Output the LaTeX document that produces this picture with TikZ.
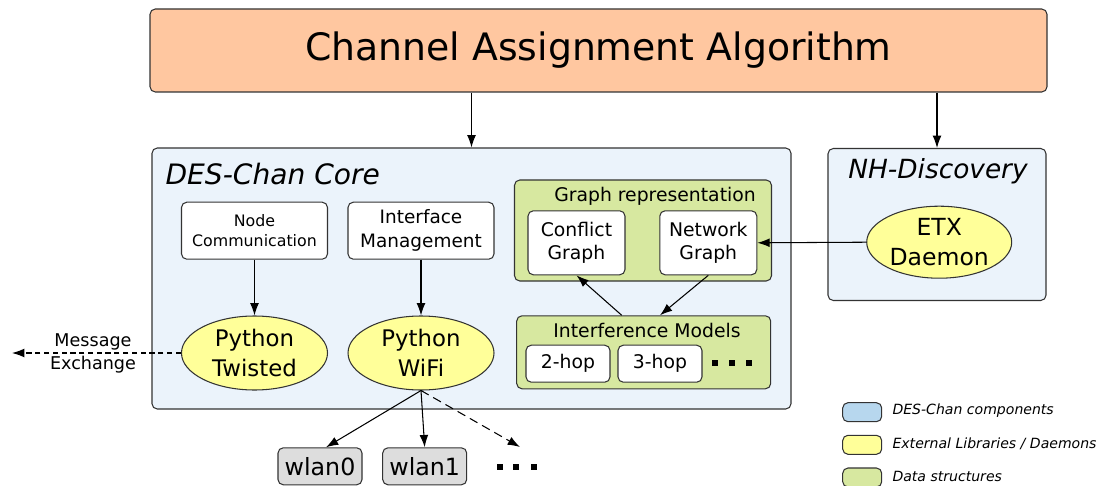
\documentclass[tikz,border=0pt]{standalone}
\usepackage{fontspec}
\setmainfont{DejaVu Sans}
\usetikzlibrary{shapes.geometric,arrows.meta}

\definecolor{caorange}{HTML}{FFC7A0}
\definecolor{coreblue}{HTML}{EBF3FB}
\definecolor{legblue}{HTML}{B7D7EE}
\definecolor{libyellow}{HTML}{FFFF99}
\definecolor{dsgreen}{HTML}{D7E8A0}
\definecolor{ifgray}{HTML}{DDDDDD}

\begin{document}
\begin{tikzpicture}[x=0.02cm, y=-0.02cm, line width=0.6pt,
  box/.style={draw=black!80, rounded corners=3pt, inner sep=0pt, align=center},
  lib/.style={draw=black!80, ellipse, fill=libyellow, inner sep=0pt,
    minimum width=146*0.02cm},
  libtext/.style={align=center, font=\fontsize{13}{17}\selectfont},
  arr/.style={-{Latex[length=7pt,width=5pt]}, black},
  dots/.style={fill=black, inner sep=0pt, minimum width=6*0.02cm, minimum height=6*0.02cm},
  legend/.style={anchor=west, inner sep=0pt, font=\fontsize{8}{10}\selectfont\itshape}]

  \newcommand\Un{0.02cm}
  \useasboundingbox (0,0) rectangle (1101,486);

  %% top
  \node[box, fill=caorange, minimum width=897*\Un, minimum height=83*\Un,
    font=\fontsize{21.5}{26}\selectfont] (caa) at (598.5,50.5) {Channel Assignment Algorithm};

  %% core
  \node[box, fill=coreblue, minimum width=639*\Un, minimum height=261*\Un] (core) at (471.5,278.5) {};
  \node[anchor=base west, inner sep=0pt, font=\fontsize{16}{19}\selectfont\itshape] (coretitle) at (165,185) {DES-Chan Core};

  \node[box, fill=white, minimum width=146*\Un, minimum height=57*\Un,
    font=\fontsize{9}{11.3}\selectfont] (ncomm) at (254.5,230.7) {Node\\Communication};
  \node[box, fill=white, minimum width=146*\Un, minimum height=57*\Un,
    font=\fontsize{10.5}{13.5}\selectfont] (iface) at (421,230.7) {Interface\\Management};

  \node[lib, minimum height=74*\Un, label={[libtext]center:Python\\Twisted}] (twisted) at (254.5,353) {};
  \node[lib, minimum height=74*\Un, label={[libtext]center:Python\\WiFi}] (wifi) at (421,353) {};

  %% graphs
  \node[box, fill=dsgreen, minimum width=257*\Un, minimum height=101*\Un] (graphrep) at (643,230.5) {};
  \node[font=\fontsize{10.7}{13.6}\selectfont] (graphreptitle) at (655,196.5) {Graph representation};
  \node[box, fill=white, minimum width=97*\Un, minimum height=64*\Un,
    font=\fontsize{10.7}{13.6}\selectfont] (conflict) at (576.5,242.8) {Conflict\\Graph};
  \node[box, fill=white, minimum width=97*\Un, minimum height=64*\Un,
    font=\fontsize{10.7}{13.6}\selectfont] (network) at (708.3,242.8) {Network\\Graph};

  \node[box, fill=dsgreen, minimum width=254*\Un, minimum height=73*\Un] (interf) at (643.7,352.3) {};
  \node[font=\fontsize{10.7}{13.6}\selectfont] (interftitle) at (647,330) {Interference Models};
  \node[box, fill=white, minimum width=84*\Un, minimum height=37*\Un,
    font=\fontsize{10.7}{13.6}\selectfont] (twohop) at (568,363.7) {2-hop};
  \node[box, fill=white, minimum width=84*\Un, minimum height=37*\Un,
    font=\fontsize{10.7}{13.6}\selectfont] (threehop) at (660,363.7) {3-hop};
  \foreach \x in {715,732,749}
    \node[dots] at (\x,363) {};

  %% nh discovery
  \node[box, fill=coreblue, minimum width=218*\Un, minimum height=152*\Un] (nh) at (937,224.5) {};
  \node[anchor=base, font=\fontsize{15}{18}\selectfont\itshape] (nhtitle) at (938,178) {NH-Discovery};
  \node[lib, minimum width=145*\Un, minimum height=72*\Un,
    label={[libtext, font=\fontsize{13.4}{17.4}\selectfont]center:ETX\\Daemon}] (etx) at (939.2,242.2) {};

  %% interfaces
  \node[box, fill=ifgray, minimum width=84*\Un, minimum height=37*\Un,
    font=\fontsize{13.5}{16}\selectfont] (wlan0) at (320,466.3) {wlan0};
  \node[box, fill=ifgray, minimum width=84*\Un, minimum height=37*\Un,
    font=\fontsize{13.5}{16}\selectfont] (wlan1) at (424.7,466.3) {wlan1};
  \foreach \x in {500,516,534}
    \node[dots] at (\x,466.5) {};
  \coordinate (more) at (520,447);

  %% message exchange
  \coordinate (msg) at (12,353);
  \node[align=center, font=\fontsize{10}{13}\selectfont] (msgtext) at (93,353.5) {Message\\Exchange};

  %% legend
  \node[box, fill=legblue, minimum width=39*\Un, minimum height=19*\Un] (legcore) at (862.2,412.2) {};
  \node[box, fill=libyellow, minimum width=39*\Un, minimum height=19*\Un] (leglib) at (862.2,444.8) {};
  \node[box, fill=dsgreen, minimum width=39*\Un, minimum height=19*\Un] (legds) at (862.2,477.5) {};
  \node[legend] (legcoretext) at (892,411) {DES-Chan components};
  \node[legend] (leglibtext) at (892,443.5) {External Libraries / Daemons};
  \node[legend] (legdstext) at (892,476) {Data structures};

  %% arrows
  \draw[arr] (caa.south -| core.north) -- (core.north); % caa->core
  \draw[arr] (caa.south -| nh.north) -- (nh.north); % caa->nh
  \draw[arr] (ncomm.south) -- (twisted.north);
  \draw[arr] (iface.south) -- (wifi.north);
  \draw[arr] (etx.west) -- (network.east); % etx->network
  \draw[arr] (network.south) -- (interf.north -| threehop.north);
  \draw[arr] ([xshift=-22*\Un]interf.north) -- (conflict.south);
  \draw[arr, densely dashed] (twisted.west) -- (msg);
  \draw[arr] (wifi.south) -- ([xshift=6*\Un]wlan0.north);
  \draw[arr] (wifi.south) -- (wlan1.north);
  \draw[arr, dash pattern=on 5pt off 3pt] (wifi.south) -- (more);

\end{tikzpicture}
\end{document}
